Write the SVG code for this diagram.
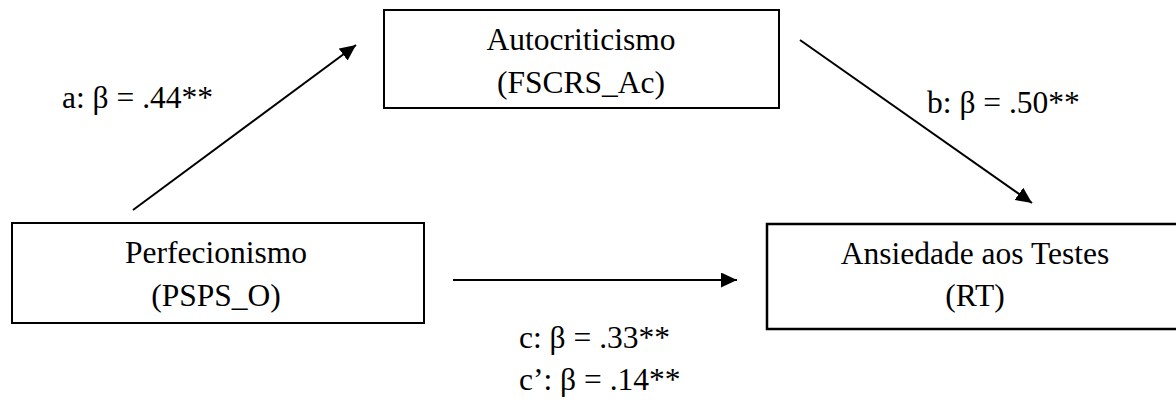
<svg xmlns="http://www.w3.org/2000/svg" width="1176" height="409" viewBox="0 0 1176 409">
  <style>
    .box { fill: #ffffff; stroke: #000000; stroke-width: 2; }
    .lbl { font-family: "Liberation Serif", "Times New Roman", serif; font-size: 31.5px; fill: #000000; }
    .mid { text-anchor: middle; }
    .edge { stroke: #000000; stroke-width: 2; fill: none; marker-end: url(#head); }
  </style>
  <defs>
    <marker id="head" markerUnits="userSpaceOnUse" markerWidth="17" markerHeight="15" refX="16" refY="7.5" orient="auto">
      <path d="M0,0 L16,7.5 L0,15 z" fill="#000000"/>
    </marker>
  </defs>
  <rect width="1176" height="409" fill="#ffffff"/>

  <!-- mediator -->
  <g id="node-autocriticismo">
    <rect class="box" x="384" y="10" width="395" height="98"/>
    <text class="lbl mid" x="581" y="50">Autocriticismo</text>
    <text class="lbl mid" x="581" y="93">(FSCRS_Ac)</text>
  </g>

  <!-- predictor -->
  <g id="node-perfecionismo">
    <rect class="box" x="12" y="223" width="412" height="100"/>
    <text class="lbl mid" x="216" y="263">Perfecionismo</text>
    <text class="lbl mid" x="216" y="306">(PSPS_O)</text>
  </g>

  <!-- outcome -->
  <g id="node-ansiedade">
    <rect class="box" x="767" y="224" width="420" height="105" style="stroke-width:2.5"/>
    <text class="lbl mid" x="975" y="264">Ansiedade aos Testes</text>
    <text class="lbl mid" x="975" y="306">(RT)</text>
  </g>

  <!-- paths a, b, c -->
  <g id="connectors">
    <line class="edge" x1="133" y1="210" x2="356" y2="45"/>
    <line class="edge" x1="800" y1="40" x2="1032" y2="203"/>
    <line class="edge" x1="453" y1="280" x2="737" y2="280"/>
    <text class="lbl" x="62" y="108">a: β = .44**</text>
    <text class="lbl" x="927" y="113">b: β = .50**</text>
    <text class="lbl" x="519" y="348">c: β = .33**</text>
    <text class="lbl" x="519" y="390">c’: β = .14**</text>
  </g>
</svg>
